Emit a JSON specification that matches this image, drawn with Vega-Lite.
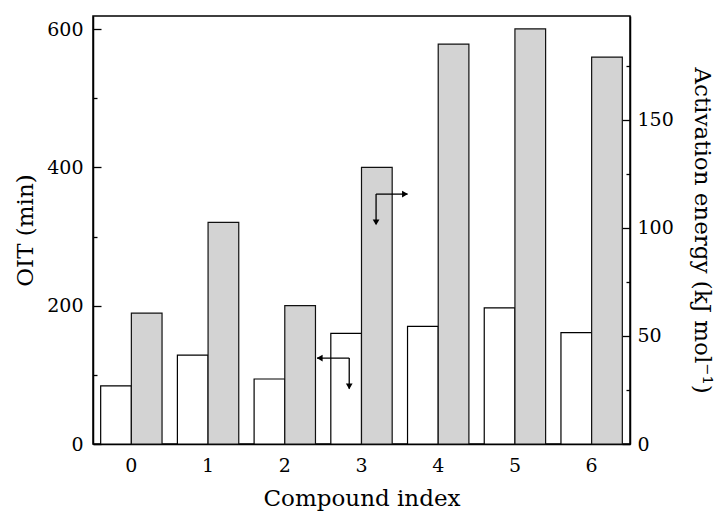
{
  "$schema": "https://vega.github.io/schema/vega-lite/v6.json",
  "width": 537,
  "height": 428,
  "autosize": {"type": "none"},
  "padding": {"left": 93, "top": 16, "right": 89, "bottom": 68},
  "background": "white",
  "config": {
    "view": {"stroke": "black", "strokeWidth": 1.5},
    "font": "DejaVu Serif",
    "axis": {
      "labelFont": "DejaVu Serif",
      "titleFont": "DejaVu Serif",
      "labelFontSize": 19,
      "titleFontSize": 23,
      "titleFontWeight": "normal",
      "labelColor": "black",
      "titleColor": "black",
      "domainColor": "black",
      "domainWidth": 1.5,
      "tickColor": "black",
      "tickWidth": 1.3,
      "grid": false
    }
  },
  "datasets": {
    "bars": [
      {"compound": "0", "series": "OIT", "value": 84},
      {"compound": "0", "series": "AE", "value": 60.5},
      {"compound": "1", "series": "OIT", "value": 128.5},
      {"compound": "1", "series": "AE", "value": 102.5},
      {"compound": "2", "series": "OIT", "value": 94},
      {"compound": "2", "series": "AE", "value": 64},
      {"compound": "3", "series": "OIT", "value": 160},
      {"compound": "3", "series": "AE", "value": 128},
      {"compound": "4", "series": "OIT", "value": 170},
      {"compound": "4", "series": "AE", "value": 185},
      {"compound": "5", "series": "OIT", "value": 197},
      {"compound": "5", "series": "AE", "value": 192},
      {"compound": "6", "series": "OIT", "value": 161},
      {"compound": "6", "series": "AE", "value": 179}
    ],
    "segments": [
      {"x": 3.19, "x2": 3.6, "y": 361.4, "y2": 361.4},
      {"x": 3.19, "x2": 3.19, "y": 361.4, "y2": 318},
      {"x": 2.84, "x2": 2.42, "y": 124.3, "y2": 124.3},
      {"x": 2.84, "x2": 2.84, "y": 124.3, "y2": 80}
    ],
    "heads": [
      {"x": 3.567, "y": 361.4, "dir": "right"},
      {"x": 3.19, "y": 320.4, "dir": "down"},
      {"x": 2.455, "y": 124.3, "dir": "left"},
      {"x": 2.84, "y": 83.3, "dir": "down"}
    ]
  },
  "layer": [
    {
      "data": {"name": "bars"},
      "transform": [{"filter": "datum.series === 'OIT'"}],
      "mark": {"type": "bar", "fill": "white", "stroke": "black", "strokeWidth": 1.2},
      "encoding": {
        "x": {
          "field": "compound", "type": "nominal",
          "scale": {"domain": ["0","1","2","3","4","5","6"], "paddingInner": 0.2, "paddingOuter": 0.1},
          "axis": {"title": "Compound index", "labelAngle": 0, "ticks": false, "labelPadding": 12, "titlePadding": 12}
        },
        "xOffset": {"field": "series", "type": "nominal", "scale": {"domain": ["OIT", "AE"], "paddingInner": 0, "paddingOuter": 0}},
        "y": {
          "field": "value", "type": "quantitative",
          "scale": {"domain": [0, 619], "nice": false, "zero": true},
          "axis": {
            "title": "OIT (min)", "orient": "left",
            "values": [0, 100, 200, 300, 400, 500, 600],
            "labelExpr": "datum.value % 200 === 0 ? datum.label : ''",
            "tickSize": {"expr": "datum.value % 200 === 0 ? -8 : -4"},
            "labelPadding": 18,
            "titlePadding": 9
          }
        }
      }
    },
    {
      "data": {"name": "bars"},
      "transform": [{"filter": "datum.series === 'AE'"}],
      "mark": {"type": "bar", "fill": "#d3d3d3", "stroke": "#111111", "strokeWidth": 1.2},
      "encoding": {
        "x": {
          "field": "compound", "type": "nominal",
          "scale": {"domain": ["0","1","2","3","4","5","6"], "paddingInner": 0.2, "paddingOuter": 0.1},
          "axis": null
        },
        "xOffset": {"field": "series", "type": "nominal", "scale": {"domain": ["OIT", "AE"], "paddingInner": 0, "paddingOuter": 0}},
        "y": {
          "field": "value", "type": "quantitative",
          "scale": {"domain": [0, 198], "nice": false, "zero": true},
          "axis": {
            "title": "Activation energy (kJ mol⁻¹)", "orient": "right",
            "values": [0, 25, 50, 75, 100, 125, 150, 175],
            "labelExpr": "datum.value % 50 === 0 ? datum.label : ''",
            "tickSize": {"expr": "datum.value % 50 === 0 ? -8 : -4"},
            "labelPadding": 15,
            "titlePadding": 16
          }
        }
      }
    },
    {
      "data": {"name": "segments"},
      "mark": {"type": "rule", "color": "black", "strokeWidth": 1.3},
      "encoding": {
        "x": {"field": "x", "type": "quantitative", "scale": {"domain": [-0.5, 6.5], "nice": false, "zero": false}, "axis": null},
        "x2": {"field": "x2"},
        "y": {"field": "y", "type": "quantitative", "scale": {"domain": [0, 619], "nice": false, "zero": true}, "axis": null},
        "y2": {"field": "y2"}
      }
    },
    {
      "data": {"name": "heads"},
      "mark": {"type": "point", "filled": true, "color": "black", "size": 45, "opacity": 1},
      "encoding": {
        "x": {"field": "x", "type": "quantitative", "scale": {"domain": [-0.5, 6.5], "nice": false, "zero": false}, "axis": null},
        "y": {"field": "y", "type": "quantitative", "scale": {"domain": [0, 619], "nice": false, "zero": true}, "axis": null},
        "shape": {
          "field": "dir", "type": "nominal",
          "scale": {"domain": ["right", "down", "left"], "range": ["triangle-right", "triangle-down", "triangle-left"]},
          "legend": null
        }
      }
    }
  ],
  "resolve": {"scale": {"x": "independent", "y": "independent", "xOffset": "independent", "shape": "independent"}}
}
